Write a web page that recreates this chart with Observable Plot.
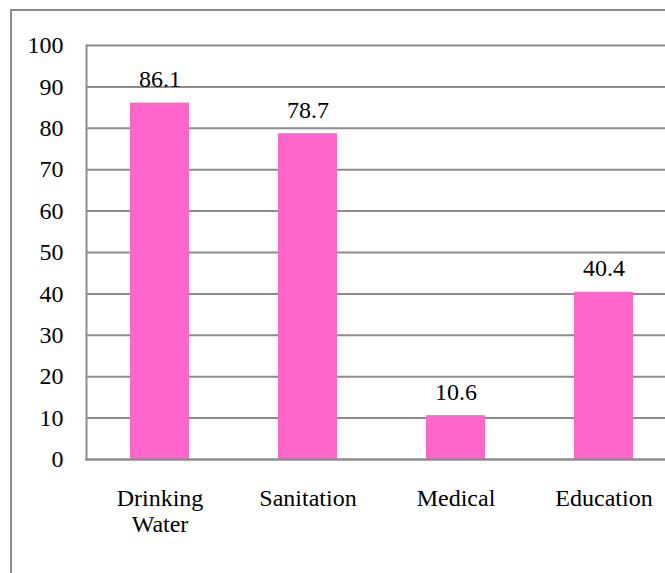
<!DOCTYPE html>
<html>
<head>
<meta charset="utf-8">
<script src="https://cdn.jsdelivr.net/npm/d3@7"></script>
<script src="https://cdn.jsdelivr.net/npm/@observablehq/plot@0.6"></script>
<style>
  html, body { margin: 0; padding: 0; background: #fff; }
  #wrap { position: relative; width: 665px; height: 573px; overflow: hidden; }
  #frame { position: absolute; left: 10px; top: 9px; width: 700px; height: 600px;
           border-left: 2px solid #8a8a8a; border-top: 2px solid #8a8a8a; }
  #chart { position: absolute; left: 0; top: 0; }
</style>
</head>
<body>
<div id="wrap"><div id="frame"></div><div id="chart"></div></div>
<script>
const categories = ["Drinking Water", "Sanitation", "Medical", "Education"];
const values = [86.1, 78.7, 10.6, 40.4];
const yTicks = [0, 10, 20, 30, 40, 50, 60, 70, 80, 90, 100];

const data = categories.map((c, i) => ({category: c, value: values[i]}));
const font = "Liberation Serif";

const chart = Plot.plot({
  width: 665,
  height: 573,
  marginLeft: 86,
  marginRight: 0,
  marginTop: 45,
  marginBottom: 114,
  style: {fontFamily: font, fontSize: "24px", color: "#000", background: "transparent", overflow: "visible"},
  x: {domain: categories, range: [86, 678], paddingInner: 0.6, paddingOuter: 0.3, align: 0.5},
  y: {domain: [0, 100]},
  marks: [
    Plot.ruleY(yTicks.filter(d => d > 0), {y: d => d, stroke: "#8c8c8c", strokeWidth: 2}),
    Plot.barY(data, {x: "category", y: "value", fill: "#FF66CC"}),
    Plot.frame({anchor: "left", stroke: "#8c8c8c", strokeWidth: 2}),
    Plot.frame({anchor: "bottom", stroke: "#8c8c8c", strokeWidth: 2.5}),
    Plot.text(data, {x: "category", y: "value", text: d => d.value.toFixed(1), lineAnchor: "bottom", dy: -16, fill: "#000", fontSize: 24, fontFamily: font}),
    Plot.axisY({ticks: yTicks, tickSize: 0, tickPadding: 23, label: null, fontSize: 24, fontFamily: font, fill: "#000"}),
    Plot.axisX({tickSize: 0, tickPadding: 28, label: null, fontSize: 24, fontFamily: font, lineHeight: 1.083, fill: "#000",
      tickFormat: d => d.replace(" ", "\n")})
  ]
});
document.getElementById("chart").appendChild(chart);
</script>
</body>
</html>
